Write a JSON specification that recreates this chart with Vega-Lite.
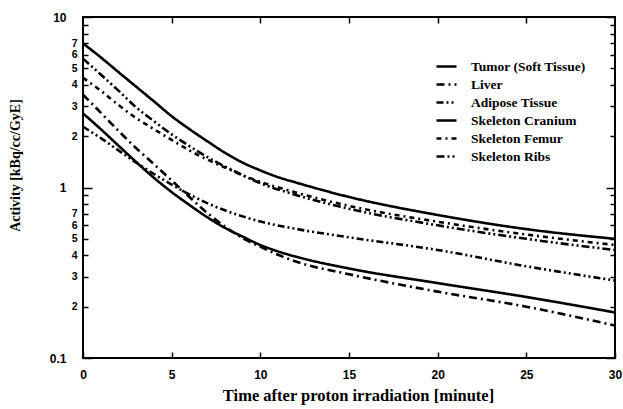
{
  "$schema": "https://vega.github.io/schema/vega-lite/v6.json",
  "width": 532,
  "height": 341,
  "autosize": {"type": "none"},
  "padding": {"left": 83, "top": 17, "right": 8, "bottom": 51},
  "background": "white",
  "config": {
    "view": {"stroke": "black", "strokeWidth": 2},
    "axis": {"grid": false, "domain": false, "ticks": true, "tickColor": "black", "labelColor": "black", "titleColor": "black", "tickWidth": 1.5, "zindex": 1}
  },
  "data": {
    "values": [
      {"series": "Tumor (Soft Tissue)", "t": 0, "v": 2.72},
      {"series": "Tumor (Soft Tissue)", "t": 1, "v": 2.2},
      {"series": "Tumor (Soft Tissue)", "t": 2, "v": 1.76},
      {"series": "Tumor (Soft Tissue)", "t": 3, "v": 1.41},
      {"series": "Tumor (Soft Tissue)", "t": 4, "v": 1.14},
      {"series": "Tumor (Soft Tissue)", "t": 5, "v": 0.94},
      {"series": "Tumor (Soft Tissue)", "t": 6, "v": 0.79},
      {"series": "Tumor (Soft Tissue)", "t": 7, "v": 0.67},
      {"series": "Tumor (Soft Tissue)", "t": 8, "v": 0.58},
      {"series": "Tumor (Soft Tissue)", "t": 9, "v": 0.515},
      {"series": "Tumor (Soft Tissue)", "t": 10, "v": 0.46},
      {"series": "Tumor (Soft Tissue)", "t": 11, "v": 0.422},
      {"series": "Tumor (Soft Tissue)", "t": 12, "v": 0.393},
      {"series": "Tumor (Soft Tissue)", "t": 15, "v": 0.335},
      {"series": "Tumor (Soft Tissue)", "t": 20, "v": 0.275},
      {"series": "Tumor (Soft Tissue)", "t": 25, "v": 0.228},
      {"series": "Tumor (Soft Tissue)", "t": 30, "v": 0.185},
      {"series": "Liver", "t": 0, "v": 3.5},
      {"series": "Liver", "t": 1, "v": 2.75},
      {"series": "Liver", "t": 2, "v": 2.15},
      {"series": "Liver", "t": 3, "v": 1.7},
      {"series": "Liver", "t": 4, "v": 1.37},
      {"series": "Liver", "t": 5, "v": 1.1},
      {"series": "Liver", "t": 6, "v": 0.88},
      {"series": "Liver", "t": 7, "v": 0.71},
      {"series": "Liver", "t": 8, "v": 0.59},
      {"series": "Liver", "t": 9, "v": 0.505},
      {"series": "Liver", "t": 10, "v": 0.45},
      {"series": "Liver", "t": 11, "v": 0.403},
      {"series": "Liver", "t": 12, "v": 0.368},
      {"series": "Liver", "t": 15, "v": 0.31},
      {"series": "Liver", "t": 20, "v": 0.245},
      {"series": "Liver", "t": 25, "v": 0.2},
      {"series": "Liver", "t": 30, "v": 0.155},
      {"series": "Adipose Tissue", "t": 0, "v": 2.27},
      {"series": "Adipose Tissue", "t": 1, "v": 1.95},
      {"series": "Adipose Tissue", "t": 2, "v": 1.65},
      {"series": "Adipose Tissue", "t": 3, "v": 1.4},
      {"series": "Adipose Tissue", "t": 4, "v": 1.2},
      {"series": "Adipose Tissue", "t": 5, "v": 1.04},
      {"series": "Adipose Tissue", "t": 6, "v": 0.91},
      {"series": "Adipose Tissue", "t": 7, "v": 0.81},
      {"series": "Adipose Tissue", "t": 8, "v": 0.735},
      {"series": "Adipose Tissue", "t": 9, "v": 0.677},
      {"series": "Adipose Tissue", "t": 10, "v": 0.632},
      {"series": "Adipose Tissue", "t": 12, "v": 0.572},
      {"series": "Adipose Tissue", "t": 15, "v": 0.51},
      {"series": "Adipose Tissue", "t": 20, "v": 0.43},
      {"series": "Adipose Tissue", "t": 25, "v": 0.345},
      {"series": "Adipose Tissue", "t": 30, "v": 0.285},
      {"series": "Skeleton Cranium", "t": 0, "v": 7.0},
      {"series": "Skeleton Cranium", "t": 1, "v": 5.8},
      {"series": "Skeleton Cranium", "t": 2, "v": 4.75},
      {"series": "Skeleton Cranium", "t": 3, "v": 3.9},
      {"series": "Skeleton Cranium", "t": 4, "v": 3.2},
      {"series": "Skeleton Cranium", "t": 5, "v": 2.62},
      {"series": "Skeleton Cranium", "t": 6, "v": 2.2},
      {"series": "Skeleton Cranium", "t": 7, "v": 1.87},
      {"series": "Skeleton Cranium", "t": 8, "v": 1.6},
      {"series": "Skeleton Cranium", "t": 9, "v": 1.4},
      {"series": "Skeleton Cranium", "t": 10, "v": 1.26},
      {"series": "Skeleton Cranium", "t": 11, "v": 1.15},
      {"series": "Skeleton Cranium", "t": 12, "v": 1.07},
      {"series": "Skeleton Cranium", "t": 15, "v": 0.88},
      {"series": "Skeleton Cranium", "t": 20, "v": 0.69},
      {"series": "Skeleton Cranium", "t": 25, "v": 0.57},
      {"series": "Skeleton Cranium", "t": 30, "v": 0.5},
      {"series": "Skeleton Femur", "t": 0, "v": 4.4},
      {"series": "Skeleton Femur", "t": 1, "v": 3.7},
      {"series": "Skeleton Femur", "t": 2, "v": 3.05},
      {"series": "Skeleton Femur", "t": 3, "v": 2.55},
      {"series": "Skeleton Femur", "t": 4, "v": 2.2},
      {"series": "Skeleton Femur", "t": 5, "v": 1.9},
      {"series": "Skeleton Femur", "t": 6, "v": 1.65},
      {"series": "Skeleton Femur", "t": 7, "v": 1.46},
      {"series": "Skeleton Femur", "t": 8, "v": 1.31},
      {"series": "Skeleton Femur", "t": 9, "v": 1.18},
      {"series": "Skeleton Femur", "t": 10, "v": 1.08},
      {"series": "Skeleton Femur", "t": 12, "v": 0.935},
      {"series": "Skeleton Femur", "t": 15, "v": 0.78},
      {"series": "Skeleton Femur", "t": 20, "v": 0.63},
      {"series": "Skeleton Femur", "t": 25, "v": 0.53},
      {"series": "Skeleton Femur", "t": 30, "v": 0.46},
      {"series": "Skeleton Ribs", "t": 0, "v": 5.7},
      {"series": "Skeleton Ribs", "t": 1, "v": 4.6},
      {"series": "Skeleton Ribs", "t": 2, "v": 3.7},
      {"series": "Skeleton Ribs", "t": 3, "v": 2.95},
      {"series": "Skeleton Ribs", "t": 4, "v": 2.45},
      {"series": "Skeleton Ribs", "t": 5, "v": 2.05},
      {"series": "Skeleton Ribs", "t": 6, "v": 1.75},
      {"series": "Skeleton Ribs", "t": 7, "v": 1.51},
      {"series": "Skeleton Ribs", "t": 8, "v": 1.33},
      {"series": "Skeleton Ribs", "t": 9, "v": 1.18},
      {"series": "Skeleton Ribs", "t": 10, "v": 1.06},
      {"series": "Skeleton Ribs", "t": 12, "v": 0.905},
      {"series": "Skeleton Ribs", "t": 15, "v": 0.75},
      {"series": "Skeleton Ribs", "t": 20, "v": 0.6},
      {"series": "Skeleton Ribs", "t": 25, "v": 0.5},
      {"series": "Skeleton Ribs", "t": 30, "v": 0.43}
    ]
  },
  "layer": [
    {
      "mark": {"type": "line", "interpolate": "monotone", "color": "black", "clip": true},
      "encoding": {
        "x": {
          "field": "t", "type": "quantitative",
          "scale": {"domain": [0, 30], "nice": false, "zero": false},
          "axis": {
            "orient": "bottom", "values": [0, 5, 10, 15, 20, 25, 30],
            "tickSize": -6, "labelPadding": 17, "labelFont": "Liberation Sans", "labelFontWeight": "bold", "labelFontSize": 12,
            "labelFlush": false, "labelOverlap": false,
            "title": "Time after proton irradiation [minute]", "titleFont": "Liberation Serif", "titleFontWeight": "bold", "titleFontSize": 16.5, "titlePadding": 7, "titleX": 275
          }
        },
        "y": {
          "field": "v", "type": "quantitative",
          "scale": {"type": "log", "domain": [0.1, 10], "nice": false},
          "axis": {
            "orient": "left",
            "values": [0.1, 0.2, 0.3, 0.4, 0.5, 0.6, 0.7, 0.8, 0.9, 1, 2, 3, 4, 5, 6, 7, 8, 9, 10],
            "tickSize": {"condition": {"test": "datum.value == 1 || datum.value == 10 || datum.value < 0.11", "value": -9}, "value": -5},
            "labelPadding": {"condition": {"test": "datum.value == 1 || datum.value == 10 || datum.value < 0.11", "value": 26}, "value": 11},
            "labelFontSize": {"condition": {"test": "datum.value == 1 || datum.value == 10 || datum.value < 0.11", "value": 12}, "value": 10.5},
            "labelExpr": "datum.value == 10 ? '10' : datum.value == 1 ? '1' : datum.value < 0.11 ? '0.1' : ((datum.value >= 1 ? round(datum.value) : round(datum.value * 10)) >= 8 ? '' : '' + (datum.value >= 1 ? round(datum.value) : round(datum.value * 10)))",
            "labelFont": "Liberation Sans", "labelFontWeight": "bold",
            "labelOverlap": false, "labelBound": false, "labelFlush": false,
            "title": "Activity [kBq/cc/GyE]", "titleFont": "Liberation Serif", "titleFontWeight": "bold", "titleFontSize": 14,
            "titleX": -68, "titleY": 148, "titleAlign": "center", "titleBaseline": "middle", "titleAngle": -90
          }
        },
        "strokeDash": {
          "field": "series", "type": "nominal",
          "scale": {
            "domain": ["Tumor (Soft Tissue)", "Liver", "Adipose Tissue", "Skeleton Cranium", "Skeleton Femur", "Skeleton Ribs"],
            "range": [[1, 0], [8, 4, 2, 4], [7, 3, 2, 3, 2, 3], [1, 0], [5, 4, 2, 4], [8, 3, 2, 3, 2, 3]]
          },
          "legend": {
            "orient": "none", "legendX": 352, "legendY": 38, "title": null,
            "symbolType": "stroke", "symbolSize": 400, "symbolStrokeColor": "black",
            "labelFont": "Liberation Serif", "labelFontWeight": "bold", "labelFontSize": 13.5, "labelColor": "black",
            "labelOffset": 13, "rowPadding": -5, "padding": 0
          }
        },
        "strokeWidth": {
          "field": "series", "type": "nominal",
          "scale": {
            "domain": ["Tumor (Soft Tissue)", "Liver", "Adipose Tissue", "Skeleton Cranium", "Skeleton Femur", "Skeleton Ribs"],
            "range": [2.6, 2.6, 2, 1.2, 1.1, 1.1]
          },
          "legend": {
            "orient": "none", "legendX": 352, "legendY": 38, "title": null,
            "symbolType": "stroke", "symbolSize": 400, "symbolStrokeColor": "black",
            "labelFont": "Liberation Serif", "labelFontWeight": "bold", "labelFontSize": 13.5, "labelColor": "black",
            "labelOffset": 13, "rowPadding": -5, "padding": 0
          }
        }
      }
    },
    {
      "mark": {"type": "line", "opacity": 0},
      "encoding": {
        "detail": {"field": "series", "type": "nominal"},
        "x": {
          "field": "t", "type": "quantitative",
          "scale": {"domain": [0, 30], "nice": false, "zero": false},
          "axis": {"orient": "top", "values": [5, 10, 15, 20, 25], "tickSize": -6, "labels": false, "title": null}
        },
        "y": {
          "field": "v", "type": "quantitative",
          "scale": {"type": "log", "domain": [0.1, 10], "nice": false},
          "axis": {
            "orient": "right",
            "values": [0.1, 0.2, 0.3, 0.4, 0.5, 0.6, 0.7, 0.8, 0.9, 1, 2, 3, 4, 5, 6, 7, 8, 9, 10],
            "tickSize": {"condition": {"test": "datum.value == 1 || datum.value == 10 || datum.value < 0.11", "value": -9}, "value": -5},
            "labels": false, "title": null
          }
        }
      }
    }
  ],
  "resolve": {"axis": {"x": "independent", "y": "independent"}}
}
